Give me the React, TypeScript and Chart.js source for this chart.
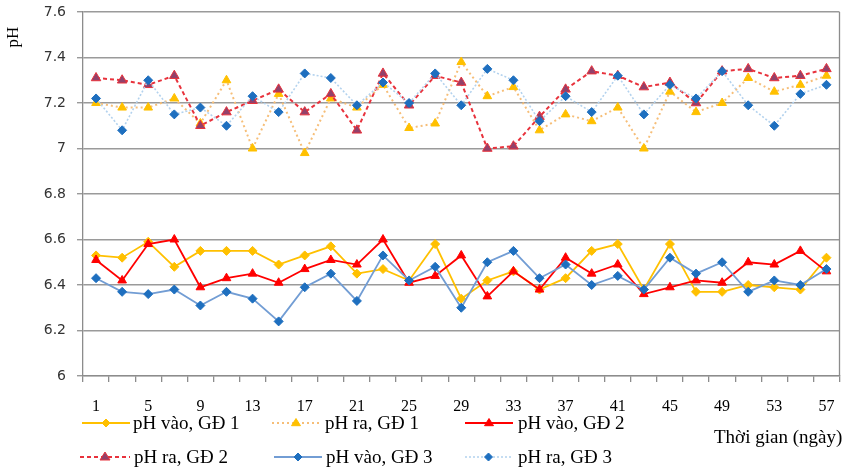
import React, { useEffect, useRef } from 'react';
import { Chart, registerables } from 'chart.js';
Chart.register(...registerables);

const days = ['1','3','5','7','9','11','13','15','17','19','21','23','25','27','29','31','33','35','37','39','41','43','45','47','49','51','53','55','57'];
const yTicks = [6, 6.2, 6.4, 6.6, 6.8, 7, 7.2, 7.4, 7.6];
const seriesNames = ['pH vào, GĐ 1', 'pH ra, GĐ 1', 'pH vào, GĐ 2', 'pH ra, GĐ 2', 'pH vào, GĐ 3', 'pH ra, GĐ 3'];
const phVaoGD1 = [6.53,6.52,6.59,6.48,6.55,6.55,6.55,6.49,6.53,6.57,6.45,6.47,6.42,6.58,6.34,6.42,6.46,6.38,6.43,6.55,6.58,6.38,6.58,6.37,6.37,6.40,6.39,6.38,6.52];
const phRaGD1 = [7.20,7.18,7.18,7.22,7.11,7.30,7.00,7.24,6.98,7.22,7.18,7.28,7.09,7.11,7.38,7.23,7.27,7.08,7.15,7.12,7.18,7.00,7.25,7.16,7.20,7.31,7.25,7.28,7.32];
const phVaoGD2 = [6.51,6.42,6.58,6.60,6.39,6.43,6.45,6.41,6.47,6.51,6.49,6.60,6.41,6.44,6.53,6.35,6.46,6.38,6.52,6.45,6.49,6.36,6.39,6.42,6.41,6.50,6.49,6.55,6.46];
const phRaGD2 = [7.31,7.30,7.28,7.32,7.10,7.16,7.21,7.26,7.16,7.24,7.08,7.33,7.19,7.32,7.29,7.00,7.01,7.14,7.26,7.34,7.32,7.27,7.29,7.20,7.34,7.35,7.31,7.32,7.35];
const phVaoGD3 = [6.43,6.37,6.36,6.38,6.31,6.37,6.34,6.24,6.39,6.45,6.33,6.53,6.42,6.48,6.30,6.50,6.55,6.43,6.49,6.40,6.44,6.38,6.52,6.45,6.50,6.37,6.42,6.40,6.47];
const phRaGD3 = [7.22,7.08,7.30,7.15,7.18,7.10,7.23,7.16,7.33,7.31,7.19,7.29,7.20,7.33,7.19,7.35,7.30,7.12,7.23,7.16,7.32,7.15,7.28,7.22,7.34,7.19,7.10,7.24,7.28];
const xTitle = 'Thời gian (ngày)';
const yTitle = 'pH';

const SERIF = '"Liberation Serif", "DejaVu Serif", serif';
const SANS = '"DejaVu Sans", "Liberation Sans", sans-serif';

const styles = [
  { line: '#FFC000', dash: [], width: 1.8, pStyle: 'rectRot', pBg: '#FFC000', pBorder: '#FFC000', r: 4.5 },
  { line: '#F6BE78', dash: [2, 3], width: 2, pStyle: 'triangle', pBg: '#FFC000', pBorder: '#FFC000', r: 5 },
  { line: '#FF0000', dash: [], width: 1.8, pStyle: 'triangle', pBg: '#FF0000', pBorder: '#FF0000', r: 5 },
  { line: '#E8323C', dash: [4, 3], width: 2, pStyle: 'triangle', pBg: '#93416A', pBorder: '#E8323C', r: 5.5 },
  { line: '#729DD4', dash: [], width: 1.8, pStyle: 'rectRot', pBg: '#1E6FBF', pBorder: '#1E6FBF', r: 4.5 },
  { line: '#B3D2EE', dash: [2, 2], width: 1.6, pStyle: 'rectRot', pBg: '#1E6FBF', pBorder: '#1E6FBF', r: 4.5 },
];

const legendPos = [
  { x0: 82, x1: 130, tx: 133, y: 423 },
  { x0: 272, x1: 320, tx: 325, y: 423 },
  { x0: 465, x1: 513, tx: 518, y: 423 },
  { x0: 80, x1: 130, tx: 134, y: 457 },
  { x0: 274, x1: 322, tx: 326, y: 457 },
  { x0: 465, x1: 512, tx: 518, y: 457 },
];

function drawMarker(ctx: CanvasRenderingContext2D, style: string, x: number, y: number, r: number) {
  ctx.beginPath();
  if (style === 'triangle') {
    ctx.moveTo(x, y - r);
    ctx.lineTo(x + r, y + r * 0.6);
    ctx.lineTo(x - r, y + r * 0.6);
  } else {
    ctx.moveTo(x, y - r);
    ctx.lineTo(x + r, y);
    ctx.lineTo(x, y + r);
    ctx.lineTo(x - r, y);
  }
  ctx.closePath();
  ctx.fill();
  ctx.stroke();
}

const decorPlugin = {
  id: 'decor',
  afterDraw(chart: any) {
    const ctx: CanvasRenderingContext2D = chart.ctx;
    const a = chart.chartArea;
    ctx.save();
    ctx.strokeStyle = '#8c8c8c';
    ctx.lineWidth = 1.3;
    ctx.beginPath();
    ctx.moveTo(a.right, a.top);
    ctx.lineTo(a.right, a.bottom);
    ctx.stroke();
    ctx.fillStyle = '#000';
    ctx.font = '17px ' + SERIF;
    ctx.textAlign = 'center';
    ctx.textBaseline = 'middle';
    ctx.save();
    ctx.translate(14, 37);
    ctx.rotate(-Math.PI / 2);
    ctx.fillText(yTitle, 0, 0);
    ctx.restore();
    ctx.font = '19px ' + SERIF;
    ctx.textAlign = 'left';
    ctx.fillText(xTitle, 714, 438);
    legendPos.forEach((p, i) => {
      const s = styles[i];
      ctx.strokeStyle = s.line;
      ctx.lineWidth = s.width;
      ctx.setLineDash(s.dash);
      ctx.beginPath();
      ctx.moveTo(p.x0, p.y);
      ctx.lineTo(p.x1, p.y);
      ctx.stroke();
      ctx.setLineDash([]);
      ctx.fillStyle = s.pBg;
      ctx.strokeStyle = s.pBorder;
      ctx.lineWidth = 1;
      drawMarker(ctx, s.pStyle, (p.x0 + p.x1) / 2, p.y, s.r - 0.5);
      ctx.fillStyle = '#000';
      ctx.textAlign = 'left';
      ctx.fillText(seriesNames[i], p.tx, p.y + 1);
    });
    ctx.restore();
  },
};

export default function App() {
  const ref = useRef<HTMLCanvasElement | null>(null);
  useEffect(() => {
    if (!ref.current) return;
    const series = [phVaoGD1, phRaGD1, phVaoGD2, phRaGD2, phVaoGD3, phRaGD3];
    const chart = new Chart(ref.current, {
      type: 'line',
      data: {
        labels: days,
        datasets: series.map((d, i) => ({
          label: seriesNames[i],
          data: d,
          borderColor: styles[i].line,
          backgroundColor: styles[i].pBg,
          borderWidth: styles[i].width,
          borderDash: styles[i].dash,
          pointStyle: styles[i].pStyle as any,
          pointRadius: styles[i].r,
          pointBackgroundColor: styles[i].pBg,
          pointBorderColor: styles[i].pBorder,
          pointBorderWidth: 1,
          tension: 0,
          fill: false,
          order: 10 - i,
        })),
      },
      options: {
        responsive: false,
        animation: false,
        devicePixelRatio: 1,
        layout: { padding: { top: 12, right: 3, left: 0, bottom: 0 } },
        plugins: { legend: { display: false }, tooltip: { enabled: false } },
        scales: {
          x: {
            offset: true,
            grid: { offset: true, drawOnChartArea: false, drawTicks: true, tickLength: 6, color: '#8c8c8c', lineWidth: 1.3 },
            border: { display: true, color: '#8c8c8c', width: 1.3 },
            ticks: {
              autoSkip: false,
              maxRotation: 0,
              padding: 15,
              color: '#000',
              font: { family: SERIF, size: 16 },
              callback: (_v: any, idx: number) => (idx % 2 === 0 ? days[idx] : ''),
            },
            afterFit: (s: any) => {
              s.height = 93;
              s.paddingLeft = 0; s.paddingRight = 0; s.paddingTop = 0; s.paddingBottom = 0;
            },
          },
          y: {
            min: yTicks[0],
            max: yTicks[yTicks.length - 1],
            afterBuildTicks: (s: any) => { s.ticks = yTicks.map((v) => ({ value: v })); },
            grid: { color: '#9a9a9a', lineWidth: 1.4, tickLength: 6, drawTicks: true },
            border: { display: true, color: '#8c8c8c', width: 1.3 },
            ticks: {
              padding: 11,
              color: '#333',
              font: { family: SANS, size: 14 },
              callback: (v: any) => String(Number(Number(v).toFixed(1))),
            },
            afterFit: (s: any) => {
              s.width = 83;
              s.paddingTop = 0; s.paddingBottom = 0; s.paddingLeft = 0; s.paddingRight = 0;
            },
          },
        },
      },
      plugins: [decorPlugin],
    });
    return () => chart.destroy();
  }, []);
  return (
    <div style={{ position: 'fixed', left: 0, top: 0, width: 846, height: 469, background: '#fff' }}>
      <canvas ref={ref} width={846} height={469} style={{ width: 846, height: 469, display: 'block' }} />
    </div>
  );
}
